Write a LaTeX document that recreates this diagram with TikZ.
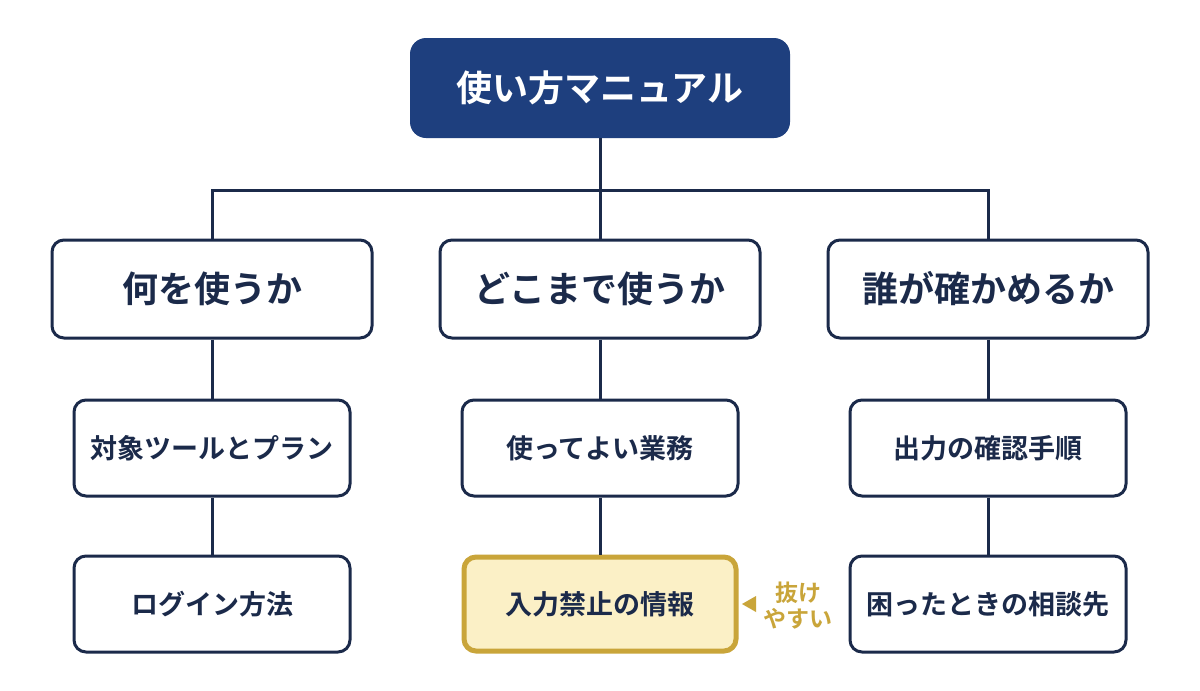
\documentclass[tikz,border=0pt]{standalone}
\usepackage{fontspec}
\setmainfont{Noto Sans CJK JP}[BoldFont={* Bold}]
\begin{document}
\begin{tikzpicture}[x=0.5pt,y=-0.5pt,
  line/.style={draw=navy,line width=1.5pt},
  box/.style={draw=navy,line width=1.5pt,fill=white,rounded corners=6pt,font=\bfseries\fontsize{18}{20}\selectfont,text=navy,inner sep=0pt},
  sbox/.style={box,font=\bfseries\fontsize{13.5}{15}\selectfont}]
\definecolor{navy}{HTML}{1B2A4A}
\definecolor{blue}{HTML}{1E3F7E}
\definecolor{gold}{HTML}{C9A53A}
\definecolor{cream}{HTML}{FBF0C6}
\useasboundingbox (0,0) rectangle (1200,691);
\fill[white] (0,0) rectangle (1200,691);
\node[fill=blue,rounded corners=8pt,minimum width=190pt,minimum height=50pt,text=white,font=\bfseries\fontsize{18}{20}\selectfont] (top) at (600,88) {使い方マニュアル};
\foreach \n/\x/\t in {a/212/何を使うか,b/600/どこまで使うか,c/988/誰が確かめるか}
  \node[box,minimum width=160pt,minimum height=49pt] (\n) at (\x,289) {\t};
\foreach \n/\x/\t in {a1/212/対象ツールとプラン,b1/600/使ってよい業務,c1/988/出力の確認手順}
  \node[sbox,minimum width=138pt,minimum height=48pt] (\n) at (\x,448) {\t};
\foreach \n/\x/\t in {a2/212/ログイン方法,c2/988/困ったときの相談先}
  \node[sbox,minimum width=138pt,minimum height=48pt] (\n) at (\x,604) {\t};
\node[sbox,draw=gold,line width=2.5pt,fill=cream,minimum width=136pt,minimum height=47pt] (b2) at (600,604) {入力禁止の情報};
\coordinate (j) at (600,190);
\draw[line] (top.south) -- (b.north);
\draw[line] (a.north) |- (j) -| (c.north);
\foreach \u/\v in {a/a1,a1/a2,b/b1,b1/b2,c/c1,c1/c2} \draw[line] (\u.south) -- (\v.north);
\node[text=gold,font=\bfseries\fontsize{11.5}{13}\selectfont,align=center] (lab) at (798,606) {抜け\\やすい};
\fill[gold] (742,604) -- (756,596) -- (756,612) -- cycle;
\end{tikzpicture}
\end{document}
